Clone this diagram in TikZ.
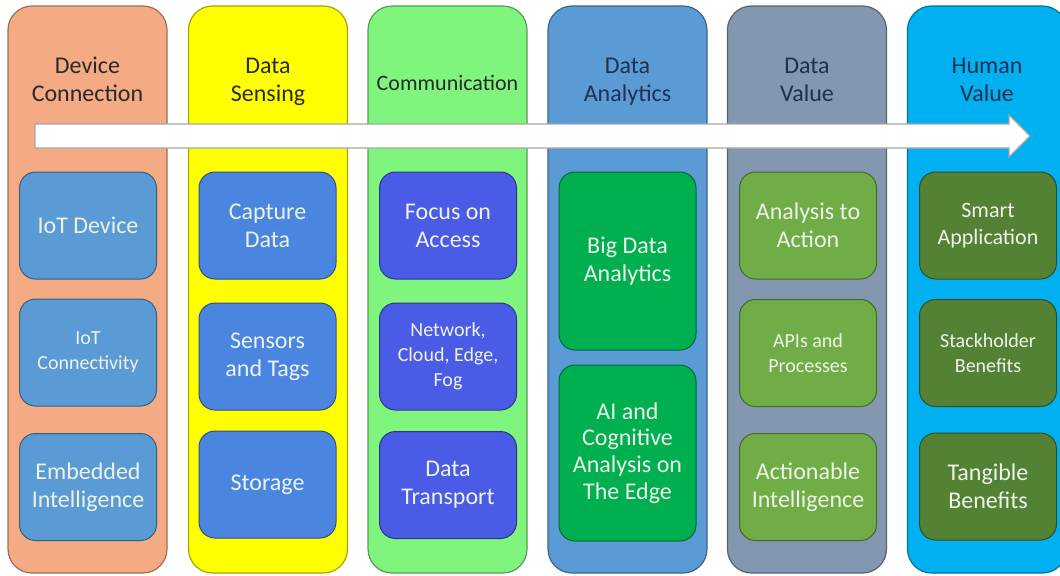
\documentclass[tikz,border=0pt]{standalone}
\usepackage{fontspec}
\setmainfont{Carlito}
\usepackage{tikz}
\usetikzlibrary{positioning}
% column fills
\definecolor{cOrange}{HTML}{F4AA82}
\definecolor{cYellow}{HTML}{FFFF00}
\definecolor{cLime}{HTML}{80F57E}
\definecolor{cSteel}{HTML}{5B9BD5}
\definecolor{cSlate}{HTML}{8497B0}
\definecolor{cSky}{HTML}{00B0F0}
% inner boxes
\definecolor{bSteel}{HTML}{5B9BD5}
\definecolor{bBlue}{HTML}{4A86E0}
\definecolor{bRoyal}{HTML}{4A5BE6}
\definecolor{bGreen}{HTML}{00B050}
\definecolor{bLeaf}{HTML}{70AD47}
\definecolor{bMoss}{HTML}{548235}
\definecolor{txtLight}{HTML}{EEF3EA}
\definecolor{txtDark}{HTML}{2A2A2A}
\definecolor{txtNavy}{HTML}{1F3050}
\tikzset{
  col/.style={draw=#1!65!black, fill=#1, rounded corners=12pt, line width=0.6pt,
    minimum width=79.5pt, minimum height=283.5pt, inner sep=0pt},
  head/.style={align=center, text=txtDark, font=\fontsize{12}{14}\selectfont},
  item/.style={draw=#1!60!black, fill=#1, rounded corners=8pt, line width=0.5pt,
    minimum width=68.5pt, minimum height=53.5pt, inner sep=1pt, align=center,
    text=txtLight, font=\fontsize{12}{14}\selectfont},
  small/.style={font=\fontsize{10}{12.5}\selectfont},
}
\begin{document}
\begin{tikzpicture}[x=0.5pt, y=-0.5pt]
\useasboundingbox (0,0) rectangle (1060,575);
\fill[white] (0,0) rectangle (1060,575);

% the six stages
\node[col=cOrange] (dev) at (87.5,289.5) {};
\node[col=cYellow] (sen) at (268,289.5) {};
\node[col=cLime]   (com) at (447.5,289.5) {};
\node[col=cSteel]  (ana) at (627.5,289.5) {};
\node[col=cSlate]  (val) at (807,289.5) {};
\node[col=cSky]    (hum) at (987,289.5) {};

\node[head] (devT) at (87.5,79) {Device\\Connection};
\node[head] (senT) at (268,82) {Data\\Sensing};
\node[head, font=\fontsize{11}{13}\selectfont] (comT) at (447.5,83) {Communication};
\node[head, text=txtNavy] (anaT) at (627.5,82) {Data\\Analytics};
\node[head, text=txtNavy] (valT) at (807,80) {Data\\Value};
\node[head, text=txtNavy] (humT) at (987,80) {Human\\Value};

% flow arrow across all stages
\draw[fill=white, draw=gray!70, line width=0.6pt]
  (35,124) -- (1009,124) -- (1009,115) -- (1030,136) -- (1009,157)
  -- (1009,148) -- (35,148) -- cycle;

% device connection
\node[item=bSteel] (dev1) at (88,225.5) {IoT Device};
\node[item=bSteel, small] (dev2) at (88,352.5) {IoT\\Connectivity};
\node[item=bSteel] (dev3) at (88,487) {Embedded\\Intelligence};

% data sensing
\node[item=bBlue] (sen1) at (267.5,225.5) {Capture\\Data};
\node[item=bBlue] (sen2) at (267.5,356.5) {Sensors\\and Tags};
\node[item=bBlue] (sen3) at (267.5,484.5) {Storage};

% communication
\node[item=bRoyal] (com1) at (448,225.5) {Focus on\\Access};
\node[item=bRoyal, small] (com2) at (448,356.5) {Network,\\Cloud, Edge,\\Fog};
\node[item=bRoyal] (com3) at (448,485) {Data\\Transport};

% data analytics
\node[item=bGreen, minimum height=89pt] (ana1) at (627.5,261) {Big Data\\Analytics};
\node[item=bGreen, minimum height=88pt, font=\fontsize{12}{13.3}\selectfont] (ana2) at (627.5,453) {AI and\\Cognitive\\Analysis on\\The Edge};

% data value
\node[item=bLeaf] (val1) at (808,225.5) {Analysis to\\Action};
\node[item=bLeaf, small] (val2) at (808,353) {APIs and\\Processes};
\node[item=bLeaf] (val3) at (808,487) {Actionable\\Intelligence};

% human value
\node[item=bMoss, font=\fontsize{11}{13.5}\selectfont] (hum1) at (988,225.5) {Smart\\Application};
\node[item=bMoss, small] (hum2) at (988,353) {Stackholder\\Benefits};
\node[item=bMoss] (hum3) at (988,486.5) {Tangible\\Benefits};
\end{tikzpicture}
\end{document}
